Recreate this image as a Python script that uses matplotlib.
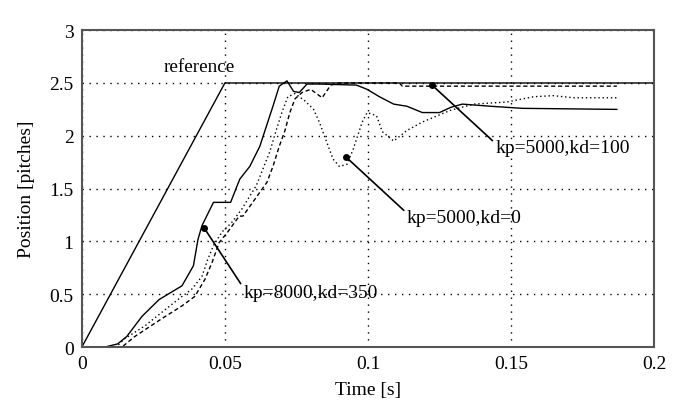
import matplotlib
matplotlib.use("Agg")
import matplotlib.pyplot as plt

plt.rcParams['font.family'] = ['Liberation Serif', 'DejaVu Serif']

ref_t = [0.0, 0.05, 0.2]
ref_y = [0.0, 2.5, 2.5]

t_8000 = [0, 0.008, 0.0125, 0.0157, 0.021, 0.027, 0.035, 0.039, 0.0406, 0.042, 0.046,
          0.052, 0.0552, 0.0587, 0.0622, 0.0668, 0.069, 0.0717, 0.074, 0.076, 0.0787,
          0.083, 0.096, 0.0997, 0.104, 0.109, 0.1136, 0.119, 0.125, 0.129, 0.133,
          0.1427, 0.154, 0.187]
y_8000 = [0, 0, 0.03, 0.10, 0.29, 0.45, 0.58, 0.77, 1.02, 1.15, 1.37,
          1.37, 1.59, 1.71, 1.90, 2.28, 2.47, 2.52, 2.42, 2.41, 2.49,
          2.49, 2.48, 2.44, 2.37, 2.30, 2.28, 2.22, 2.22, 2.27, 2.30,
          2.28, 2.26, 2.25]

t_kd0 = [0, 0.012, 0.015, 0.022, 0.028, 0.0336, 0.0385, 0.042, 0.044, 0.046, 0.049,
         0.0524, 0.056, 0.061, 0.0657, 0.0678, 0.0699, 0.072, 0.0745, 0.078, 0.081,
         0.083, 0.0856, 0.0878, 0.090, 0.0927, 0.0948, 0.098, 0.0997, 0.103, 0.105,
         0.109, 0.1136, 0.119, 0.1287, 0.137, 0.1486, 0.158, 0.1647, 0.172, 0.187]
y_kd0 = [0, 0, 0.08, 0.20, 0.33, 0.45, 0.55, 0.67, 0.83, 0.96, 1.09,
         1.18, 1.31, 1.53, 1.85, 2.04, 2.22, 2.37, 2.40, 2.33, 2.25,
         2.13, 1.94, 1.78, 1.71, 1.73, 1.87, 2.13, 2.22, 2.19, 2.04,
         1.95, 2.05, 2.13, 2.24, 2.30, 2.32, 2.37, 2.38, 2.36, 2.36]

t_kd100 = [0, 0.014, 0.0185, 0.028, 0.035, 0.0395, 0.043, 0.0455, 0.048, 0.051, 0.055,
           0.0563, 0.0647, 0.0668, 0.069, 0.071, 0.0727, 0.0745, 0.077, 0.080, 0.084,
           0.087, 0.090, 0.111, 0.112, 0.187]
y_kd100 = [0, 0, 0.10, 0.27, 0.39, 0.48, 0.64, 0.80, 0.99, 1.09, 1.24,
           1.24, 1.56, 1.71, 1.90, 2.05, 2.22, 2.35, 2.41, 2.44, 2.36,
           2.48, 2.50, 2.50, 2.47, 2.47]

x_ticks = [0, 0.05, 0.1, 0.15, 0.2]
x_labels = ['0', '0.05', '0.1', '0.15', '0.2']
y_ticks = [0, 0.5, 1, 1.5, 2, 2.5, 3]
y_labels = ['0', '0.5', '1', '1.5', '2', '2.5', '3']

annotations = [
    ("kp=8000,kd=350", (0.0427, 1.13), (0.0565, 0.52)),
    ("kp=5000,kd=0", (0.0923, 1.80), (0.1135, 1.23)),
    ("kp=5000,kd=100", (0.1224, 2.48), (0.1445, 1.89)),
]

fig = plt.figure(figsize=(6.82, 4.10), dpi=100)
ax = fig.add_axes([0.120, 0.151, 0.839, 0.773])

ax.plot(ref_t, ref_y, color='black', lw=1.0)
ax.plot(t_8000, y_8000, color='black', lw=1.0)
ax.plot(t_kd0, y_kd0, color='black', lw=1.0, ls=(0, (1, 2)))
ax.plot(t_kd100, y_kd100, color='black', lw=1.0, ls=(0, (3, 2)))

for label, (px, py), (tx, ty) in annotations:
    ax.plot([px], [py], 'o', color='black', ms=4)
    ax.annotate(label, xy=(px, py), xytext=(tx, ty), fontsize=14,
                ha='left', va='center',
                arrowprops=dict(arrowstyle='-', color='black', lw=1.2,
                                shrinkA=0, shrinkB=0,
                                relpos=(0, 0.75)))

ax.text(0.041, 2.66, 'reference', fontsize=13.8, ha='center', va='center')

ax.set_xlim(0, 0.2)
ax.set_ylim(0, 3)
ax.set_xticks(x_ticks)
ax.set_xticklabels(x_labels)
ax.set_yticks(y_ticks)
ax.set_yticklabels(y_labels)
ax.tick_params(direction='in', length=0, labelsize=14, pad=6)
ax.grid(True, color='black', ls=(0, (1, 4)), lw=1.0)
for s in ax.spines.values():
    s.set_linewidth(1.5)
    s.set_color('#555555')

ax.set_xlabel('Time [s]', fontsize=14, labelpad=6)
ax.set_ylabel('Position [pitches]', fontsize=14, labelpad=10)

fig.savefig('out.png', dpi=100)
